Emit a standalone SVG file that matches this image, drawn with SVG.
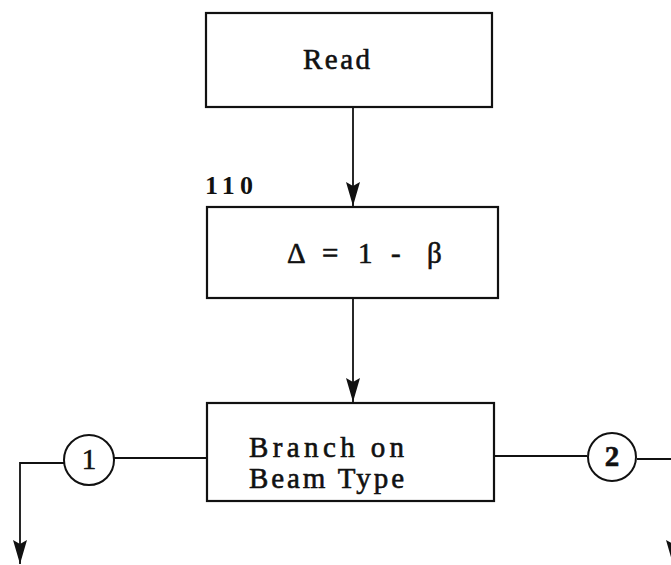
<svg xmlns="http://www.w3.org/2000/svg" width="671" height="565" viewBox="0 0 671 565">
<style>
.box{fill:#fff;stroke:#111;stroke-width:2.2}
.circ{fill:#fff;stroke:#111;stroke-width:2}
.ln{fill:none;stroke:#111;stroke-width:1.8}
.t{font-family:"Liberation Serif","DejaVu Serif",serif;font-size:29px;fill:#111;stroke:#111;stroke-width:0.6}
.lab{font-family:"Liberation Serif","DejaVu Serif",serif;font-size:26px;font-weight:bold;fill:#111}
</style>
<defs>
<marker id="ah" markerUnits="userSpaceOnUse" markerWidth="26" markerHeight="16" refX="24" refY="7" orient="auto">
<path d="M0,0 L24,7 L0,14 L4,7 z" fill="#111"/>
</marker>
</defs>
<rect width="671" height="565" fill="#fff"/>
<g id="connectors">
<line class="ln" x1="353" y1="107" x2="353" y2="206" marker-end="url(#ah)"/>
<line class="ln" x1="353" y1="298" x2="353" y2="402" marker-end="url(#ah)"/>
<line class="ln" x1="114" y1="458" x2="207" y2="458"/>
<polyline class="ln" points="64,463 20,463 20,564" marker-end="url(#ah)"/>
<line class="ln" x1="494" y1="456" x2="587" y2="456"/>
<polyline class="ln" points="637,459 673,459 673,564" marker-end="url(#ah)"/>
</g>
<g id="read">
<rect class="box" x="206" y="13" width="286" height="94"/>
<text class="t" x="303" y="69" textLength="67" lengthAdjust="spacing">Read</text>
</g>
<g id="calc">
<text class="lab" x="205" y="194" textLength="48" lengthAdjust="spacing">110</text>
<rect class="box" x="207" y="207" width="291" height="91"/>
<text class="t" y="263"><tspan x="287">Δ</tspan><tspan x="322">=</tspan><tspan x="358">1</tspan><tspan x="391">-</tspan><tspan x="427">β</tspan></text>
</g>
<g id="branch">
<rect class="box" x="207" y="403" width="287" height="98"/>
<text class="t" x="249" y="457" textLength="155" lengthAdjust="spacing">Branch on</text>
<text class="t" x="249" y="488" textLength="155" lengthAdjust="spacing">Beam Type</text>
</g>
<g id="c1">
<circle class="circ" cx="89" cy="460" r="25"/>
<text class="t" x="89" y="469" text-anchor="middle">1</text>
</g>
<g id="c2">
<circle class="circ" cx="612" cy="457" r="24"/>
<text class="t" x="612" y="466" text-anchor="middle" font-weight="bold">2</text>
</g>
</svg>
